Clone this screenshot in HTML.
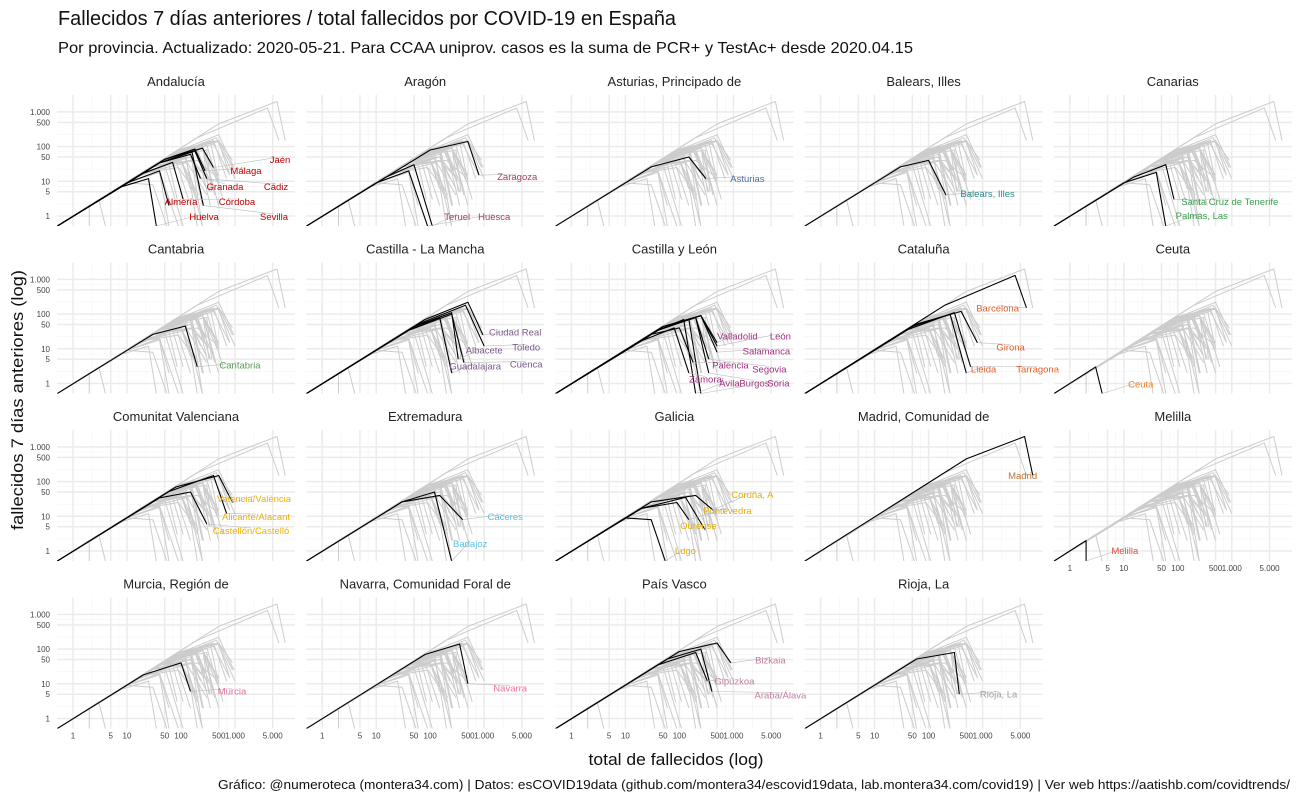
<!DOCTYPE html>
<html><head><meta charset="utf-8"><style>
body{margin:0;background:#fff}
svg{display:block;font-family:"Liberation Sans",sans-serif}
</style></head><body>
<svg id="chart" width="1300" height="800" xmlns="http://www.w3.org/2000/svg">
<text x="58" y="25" font-size="20" fill="#111" textLength="618" lengthAdjust="spacingAndGlyphs">Fallecidos 7 días anteriores / total fallecidos por COVID-19 en España</text>
<text x="58" y="53" font-size="16" fill="#111" textLength="855" lengthAdjust="spacingAndGlyphs">Por provincia. Actualizado: 2020-05-21. Para CCAA uniprov. casos es la suma de PCR+ y TestAc+ desde 2020.04.15</text>
<text transform="translate(23,400) rotate(-90)" text-anchor="middle" font-size="17" fill="#111" textLength="260" lengthAdjust="spacingAndGlyphs">fallecidos 7 días anteriores (log)</text>
<text x="676" y="765" text-anchor="middle" font-size="17" fill="#111" textLength="175" lengthAdjust="spacingAndGlyphs">total de fallecidos (log)</text>
<text x="1290" y="789" text-anchor="end" font-size="13" fill="#111" textLength="1072" lengthAdjust="spacingAndGlyphs">Gráfico: @numeroteca (montera34.com) | Datos: esCOVID19data (github.com/montera34/escovid19data, lab.montera34.com/covid19) | Ver web https://aatishb.com/covidtrends/</text>
<g id="panels"></g>
</svg>
<script>
const regions=["Andalucía","Aragón","Asturias, Principado de","Balears, Illes","Canarias","Cantabria","Castilla - La Mancha","Castilla y León","Cataluña","Ceuta","Comunitat Valenciana","Extremadura","Galicia","Madrid, Comunidad de","Melilla","Murcia, Región de","Navarra, Comunidad Foral de","País Vasco","Rioja, La"];
const regionColors=["#c00000","#a3405c","#4a6fa5","#2a8a8a","#3aa050","#5a9a5a","#7a5a8a","#a03080","#e0602a","#f08020","#f0b000","#60c0e0","#e0b000","#c07030","#e05040","#e070a0","#f070a0","#c080a0","#a0a0a0"];
const provNames=["Almería","Cádiz","Córdoba","Granada","Huelva","Jaén","Málaga","Sevilla","Huesca","Teruel","Zaragoza","Asturias","Balears, Illes","Santa Cruz de Tenerife","Palmas, Las","Cantabria","Albacete","Ciudad Real","Cuenca","Guadalajara","Toledo","Ávila","Burgos","León","Palencia","Salamanca","Segovia","Soria","Valladolid","Zamora","Barcelona","Girona","Lleida","Tarragona","Ceuta","Alicante/Alacant","Castellón/Castelló","Valencia/València","Badajoz","Cáceres","Coruña, A","Lugo","Ourense","Pontevedra","Madrid","Melilla","Murcia","Navarra","Araba/Álava","Bizkaia","Gipuzkoa","Rioja, La"];
const provRegion=[0,0,0,0,0,0,0,0,1,1,1,2,3,4,4,5,6,6,6,6,6,7,7,7,7,7,7,7,7,7,8,8,8,8,9,10,10,10,11,11,12,12,12,12,13,14,15,16,17,17,17,18];
const midTot=[10,40,20,40,8,50,50,40,10,15,100,30,30,15,10,30,50,80,40,40,60,40,40,40,30,50,40,40,50,20,200,60,40,50,2,60,40,80,30,30,30,10,20,20,500,1.5,20,80,60,100,40,60];
const midWeek=[9,34,17,34,7,43,43,34,9,13,80,26,26,13,9,26,44,70,34,35,52,34,35,35,26,44,35,34,44,17,180,52,35,44,2,52,34,70,26,26,26,9,17,17,450,1.5,18,70,52,85,35,52];
const peakTot=[40,150,70,180,25,250,180,160,40,50,500,150,100,60,40,120,250,500,250,150,450,120,200,250,100,250,200,150,250,80,4000,400,250,300,3,400,150,500,120,150,200,30,130,90,6000,2,100,350,250,500,200,300];
const peakWeek=[20,60,35,75,12,90,85,70,20,30,140,50,40,30,18,45,110,220,100,80,180,70,80,90,40,90,80,70,90,40,1300,120,100,110,3,150,50,150,50,40,40,8,35,25,2000,2,40,140,100,150,80,80];
const endTot=[60,230,110,300,35,400,280,260,90,110,800,310,210,85,60,200,330,950,420,250,1000,200,350,500,180,500,350,250,500,150,6500,800,500,600,4,700,300,900,250,400,420,55,300,150,8500,2,150,500,400,900,330,370];
const endWeek=[2,12,3,12,0.5,25,20,2,0.5,0.5,15,12,4,3,0.5,3,5,25,4,2,12,0.5,2,12,4,8,5,0.5,15,2,150,15,2,3,0.5,12,6,25,0.5,8,15,0.5,4,8,150,0.5,6,10,6,40,12,5];
/* label layout: panel-relative pixel offsets (layout, not data) */
const labelLayout=[[124,107],[219,92],[180,107],[168,92],[147,122],[223,65],[189,76],[217,122],[188,122],[151,122],[211,82],[192,84],[183,99],[176,107],[148,121],[183,103],[178,88],[209,70],[220,102],[169,104],[220,85],[174,121],[199,121],[225,74],[175,103],[211,89],[214,107],[223,121],[182,74],[150,117],[193,46],[206,85],[179,107],[233,107],[87,122],[199,87],[194,101],[197,69],[164,114],[199,87],[197,65],[130,121],[143,96],[172,81],[218,46],[71,121],[175,94],[204,91],[225,98],[215,63],[179,84],[194,97]];
const xTicks=[1,5,10,50,100,500,1000,5000];
const xTickLabels=["1","5","10","50","100","500","1.000","5.000"];
const yTicks=[1,5,10,50,100,500,1000];
const yTickLabels=["1","5","10","50","100","500","1.000"];

const NS="http://www.w3.org/2000/svg";
const root=document.getElementById('panels');
const PW=238,PH=131;
function mk(tag,attrs,parent){const e=document.createElementNS(NS,tag);for(const k in attrs)e.setAttribute(k,attrs[k]);parent.appendChild(e);return e;}
function xs(x0,v){return x0+16+54*Math.log10(v);}
function ys(y0,v){return y0+121-34.7*Math.log10(v);}
let defs=mk('defs',{},root);
regions.forEach((reg,ri)=>{
  const c=ri%5,r=Math.floor(ri/5);
  const x0=57+c*249.2,y0=95+r*167.5;
  const g=mk('g',{},root);
  
  
  const cp=mk('clipPath',{id:'cp'+ri},defs);
  mk('rect',{x:x0,y:y0,width:PW,height:PH},cp);
  const t=mk('text',{x:x0+PW/2,y:y0-9,'text-anchor':'middle','font-size':13,fill:'#222'},g);
  t.textContent=reg;
  
  
  const gg=mk('g',{stroke:'#ebebeb'},g);
  
  
  xTicks.forEach((v,i)=>{const X=xs(x0,v);mk('line',{x1:X,x2:X,y1:y0,y2:y0+PH,'stroke-width':1.5},gg);
    if(i<xTicks.length-1){const m=xs(x0,Math.sqrt(v*xTicks[i+1]));mk('line',{x1:m,x2:m,y1:y0,y2:y0+PH,'stroke-width':0.5,stroke:'#f2f2f2'},gg);}});
  yTicks.forEach((v,i)=>{const Y=ys(y0,v);mk('line',{x1:x0,x2:x0+PW,y1:Y,y2:Y,'stroke-width':1.5},gg);
    if(i<yTicks.length-1){const m=ys(y0,Math.sqrt(v*yTicks[i+1]));mk('line',{x1:x0,x2:x0+PW,y1:m,y2:m,'stroke-width':0.5,stroke:'#f2f2f2'},gg);}});
  const lg=mk('g',{'clip-path':'url(#cp'+ri+')',fill:'none'},g);
  const drawLine=(p,col,w)=>{
    const pts=[[0.5,0.5],[midTot[p],midWeek[p]],[peakTot[p],peakWeek[p]],[endTot[p],endWeek[p]]].map(q=>xs(x0,q[0]).toFixed(1)+','+ys(y0,q[1]).toFixed(1)).join(' ');
    const pl=mk('polyline',{points:pts,stroke:col,'stroke-width':w,'stroke-linejoin':'round'},lg);
    
    
  };
  provNames.forEach((n,p)=>{if(provRegion[p]!==ri)drawLine(p,'#cccccc',1);});
  provNames.forEach((n,p)=>{if(provRegion[p]===ri)drawLine(p,'#000',1.1);});
  provNames.forEach((n,p)=>{if(provRegion[p]!==ri)return;
    const lx=x0+labelLayout[p][0],ly=y0+labelLayout[p][1];
    const ex=xs(x0,endTot[p]),ey=Math.min(ys(y0,endWeek[p]),y0+PH);
    const ld=mk('line',{x1:ex,y1:ey,x2:lx,y2:ly-3,stroke:'#bbb','stroke-width':0.6},g);
    
    
    const tx=mk('text',{x:lx,y:ly+3,'text-anchor':'middle','font-size':9.5,fill:regionColors[ri]},g);
    tx.textContent=n;
    
    
  });
  if(c===0){yTicks.forEach((v,i)=>{const tt=mk('text',{x:x0-7,y:ys(y0,v)+3,'text-anchor':'end','font-size':8,fill:'#444'},g);
    tt.textContent=yTickLabels[i];
    
    });}
  if(r===3||ri===14){xTicks.forEach((v,i)=>{const tt=mk('text',{x:xs(x0,v),y:y0+PH+10,'text-anchor':'middle','font-size':8,fill:'#444'},g);
    tt.textContent=xTickLabels[i];
    
    });}
});
</script>
</body></html>
